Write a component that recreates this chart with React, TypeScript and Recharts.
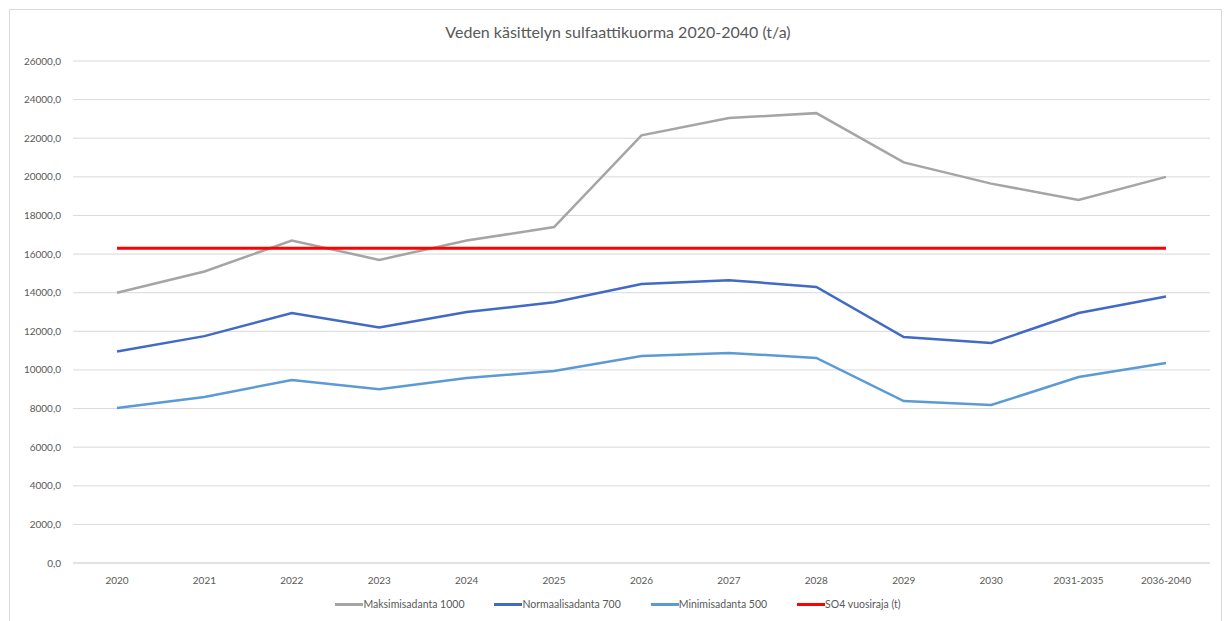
import { CartesianGrid, Line, LineChart, XAxis, YAxis } from 'recharts';

const categories = ['2020', '2021', '2022', '2023', '2024', '2025', '2026', '2027', '2028', '2029', '2030', '2031-2035', '2036-2040'];
const maksimi = [14000, 15100, 16700, 15700, 16700, 17400, 22150, 23050, 23300, 20750, 19650, 18800, 20000];
const normaali = [10950, 11750, 12950, 12200, 13000, 13500, 14450, 14650, 14300, 11700, 11400, 12950, 13800];
const minimi = [8030, 8600, 9480, 9000, 9580, 9950, 10720, 10880, 10620, 8390, 8180, 9630, 10360];
const vuosiraja = [16300, 16300, 16300, 16300, 16300, 16300, 16300, 16300, 16300, 16300, 16300, 16300, 16300];
const yTicks = [0, 2000, 4000, 6000, 8000, 10000, 12000, 14000, 16000, 18000, 20000, 22000, 24000, 26000];

const series = [
  { key: 'maksimi', name: 'Maksimisadanta 1000', color: '#a5a5a5', width: 2.5 },
  { key: 'normaali', name: 'Normaalisadanta 700', color: '#4169c6', width: 2.5 },
  { key: 'minimi', name: 'Minimisadanta 500', color: '#5b9bd5', width: 2.5 },
  { key: 'raja', name: 'SO4 vuosiraja (t)', color: '#ff0000', width: 3 },
];

const FONT = 'Lato, "Open Sans", sans-serif';
const TEXT = '#595959';

export default function App() {
  const data = categories.map((c, i) => ({
    name: c,
    maksimi: maksimi[i],
    normaali: normaali[i],
    minimi: minimi[i],
    raja: vuosiraja[i],
  }));

  return (
    <div style={{ position: 'absolute', left: 0, top: 0, width: 1230, height: 621, background: '#fff', overflow: 'hidden' }}>
      <div style={{ position: 'absolute', left: 9, top: 9, width: 1211, height: 630, border: '1px solid #d9d9d9' }} />
      <div style={{ position: 'absolute', left: 0, top: 22, width: 1236, textAlign: 'center', fontFamily: FONT, fontSize: 16, color: TEXT }}>
        Veden käsittelyn sulfaattikuorma 2020-2040 (t/a)
      </div>
      <div style={{ position: 'absolute', left: 0, top: 0 }}>
        <LineChart width={1230} height={621} data={data} margin={{ top: 61, right: 20, bottom: 28, left: 13 }}>
          <CartesianGrid stroke="#d9d9d9" vertical={false} />
          <XAxis
            dataKey="name"
            tick={{ fill: TEXT, fontSize: 10, fontFamily: FONT }}
            axisLine={{ stroke: '#d9d9d9' }}
            tickLine={false}
            tickMargin={8}
            interval={0}
            padding={{ left: 44, right: 44 }}
            height={30}
          />
          <YAxis
            domain={[0, 26000]}
            ticks={yTicks}
            width={60}
            tick={{ fill: TEXT, fontSize: 10, fontFamily: FONT }}
            axisLine={false}
            tickLine={false}
            tickMargin={6}
            tickFormatter={(v: number) => v.toFixed(1).replace('.', ',')}
          />
          {series.map((s) => (
            <Line
              key={s.key}
              type="linear"
              dataKey={s.key}
              name={s.name}
              stroke={s.color}
              strokeWidth={s.width}
              dot={false}
              isAnimationActive={false}
            />
          ))}
        </LineChart>
      </div>
      <div style={{ position: 'absolute', left: 0, top: 598, width: 1236, display: 'flex', justifyContent: 'center', gap: 30, fontFamily: FONT, fontSize: 10.5, color: TEXT }}>
        {series.map((s) => (
          <div key={s.key} style={{ display: 'flex', alignItems: 'center' }}>
            <span style={{ display: 'inline-block', width: 28, height: 3, background: s.color }} />
            <span>{s.name}</span>
          </div>
        ))}
      </div>
    </div>
  );
}
